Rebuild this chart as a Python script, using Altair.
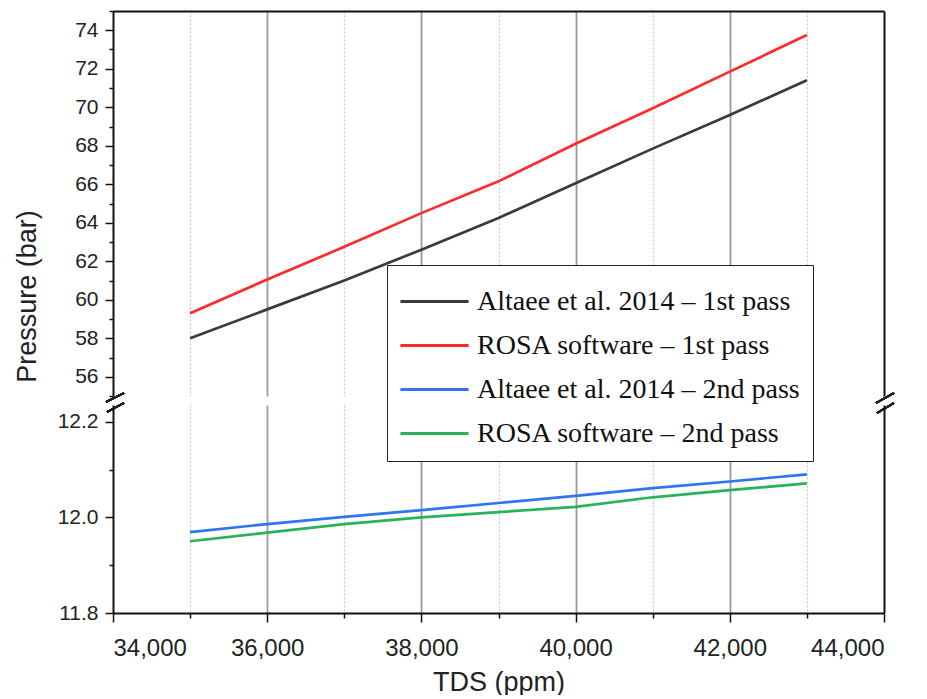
import altair as alt
import pandas as pd

# ---- data ----
tds = [35000, 36000, 37000, 38000, 39000, 40000, 41000, 42000, 43000]
altaee_1st = [58.0, 59.5, 61.0, 62.6, 64.25, 66.05, 67.85, 69.6, 71.4]
rosa_1st = [59.3, 61.05, 62.75, 64.5, 66.15, 68.1, 69.95, 71.85, 73.75]
altaee_2nd = [11.969, 11.986, 12.001, 12.015, 12.030, 12.045, 12.061, 12.075, 12.090]
rosa_2nd = [11.950, 11.968, 11.986, 12.000, 12.011, 12.022, 12.042, 12.057, 12.071]

series_names = [
    "Altaee et al. 2014 \u2013 1st pass",
    "ROSA software \u2013 1st pass",
    "Altaee et al. 2014 \u2013 2nd pass",
    "ROSA software \u2013 2nd pass",
]
series_colors = ["#3a3a3a", "#ff2a2a", "#2f74f2", "#28b35a"]

x_ticks = list(range(34000, 44001, 1000))
y_upper_ticks = list(range(55, 76))
y_lower_ticks = [11.8, 11.9, 12.0, 12.1, 12.2]

rows = []
for name, vals in zip(series_names, [altaee_1st, rosa_1st, altaee_2nd, rosa_2nd]):
    for t, v in zip(tds, vals):
        rows.append({"tds": t, "pressure": v, "series": name})
df = pd.DataFrame(rows)
df_upper = df[df["series"].isin(series_names[:2])]
df_lower = df[df["series"].isin(series_names[2:])]

W, H1, H2 = 771, 385, 208

xscale = alt.Scale(domain=[34000, 44000], nice=False, zero=False)
yscale_u = alt.Scale(domain=[55, 75], nice=False, zero=False)
yscale_l = alt.Scale(domain=[11.8, 12.235], nice=False, zero=False)
color_scale = alt.Scale(domain=series_names, range=series_colors)

MAJ_X = "datum.value % 2000 === 0"
grid_props = dict(
    grid=True,
    gridColor={"condition": {"test": MAJ_X, "value": "#9a9a9a"}, "value": "#c8c8c8"},
    gridDash={"condition": {"test": MAJ_X, "value": []}, "value": [2, 2]},
    gridWidth={"condition": {"test": MAJ_X, "value": 1.8}, "value": 1.2},
    gridOpacity={"condition": {"test": "datum.value === 34000 || datum.value === 44000", "value": 0}, "value": 1},
)

legend = alt.Legend(
    orient="none", legendX=274, legendY=254, title=None,
    symbolType="M-1.05,0H2.05", symbolSize=1936, symbolStrokeWidth=3,
    labelFont="Liberation Serif", labelFontSize=28, labelColor="#111",
    labelLimit=600, labelOffset=30, rowPadding=6,
    padding=13, strokeColor="#222", fillColor="white",
)

lines_u = alt.Chart(df_upper).mark_line(strokeWidth=2.7).encode(
    x=alt.X("tds:Q", scale=xscale,
            axis=alt.Axis(values=x_ticks, labels=False, ticks=False, domain=False, title=None, **grid_props)),
    y=alt.Y("pressure:Q", scale=yscale_u,
            axis=alt.Axis(values=y_upper_ticks, grid=False,
                          labelExpr="datum.value % 2 === 0 ? datum.label : ''",
                          tickSize={"condition": {"test": "datum.value % 2 === 0", "value": 8}, "value": 4},
                          labelFontSize=21, labelPadding=7,
                          title="Pressure (bar)", titleFontSize=27, titleAngle=270,
                          titleX=-78, titleY=285, titleBaseline="alphabetic", titleAlign="center")),
    color=alt.Color("series:N", scale=color_scale, legend=legend),
)
frame_u = alt.Chart(df_upper).mark_point(opacity=0).encode(
    x=alt.X("tds:Q", scale=xscale,
            axis=alt.Axis(orient="top", labels=False, ticks=False, grid=False, title=None)),
    y=alt.Y("pressure:Q", scale=yscale_u,
            axis=alt.Axis(orient="right", labels=False, ticks=False, grid=False, title=None)),
)
brk_left = [
    alt.Chart(df_upper).mark_rule(color="#222", strokeWidth=1.5).encode(
        x=alt.value(-7), x2=alt.value(11), y=alt.value(H1 + 6), y2=alt.value(H1 - 3)),
    alt.Chart(df_upper).mark_rule(color="#222", strokeWidth=1.5).encode(
        x=alt.value(-6), x2=alt.value(11), y=alt.value(H1 + 16), y2=alt.value(H1 + 7)),
]
brk_right = [
    alt.Chart(df_upper).mark_rule(color="#222", strokeWidth=1.5).encode(
        x=alt.value(W - 8), x2=alt.value(W + 10), y=alt.value(H1 + 7), y2=alt.value(H1 - 3)),
    alt.Chart(df_upper).mark_rule(color="#222", strokeWidth=1.5).encode(
        x=alt.value(W - 7), x2=alt.value(W + 10), y=alt.value(H1 + 17), y2=alt.value(H1 + 7)),
]
upper = alt.layer(lines_u, frame_u, *brk_left, *brk_right).resolve_axis(
    x="independent", y="independent").properties(width=W, height=H1)

lines_l = alt.Chart(df_lower).mark_line(strokeWidth=2.7).encode(
    x=alt.X("tds:Q", scale=xscale,
            axis=alt.Axis(values=x_ticks,
                          labelExpr="datum.value % 2000 === 0 ? format(datum.value, ',') : ''",
                          tickSize={"condition": {"test": MAJ_X, "value": 9}, "value": 5},
                          labelFontSize=24, labelPadding=14,
                          title="TDS (ppm)", titleFontSize=27, titlePadding=9, **grid_props)),
    y=alt.Y("pressure:Q", scale=yscale_l,
            axis=alt.Axis(values=y_lower_ticks, format=".1f", grid=False,
                          labelExpr="round(datum.value * 10) % 2 === 0 ? datum.label : ''",
                          tickSize={"condition": {"test": "round(datum.value * 10) % 2 === 0", "value": 8}, "value": 4},
                          labelFontSize=21, labelPadding=7, title=None)),
    color=alt.Color("series:N", scale=color_scale, legend=legend),
)
frame_l = alt.Chart(df_lower).mark_point(opacity=0).encode(
    x=alt.X("tds:Q", scale=xscale, axis=None),
    y=alt.Y("pressure:Q", scale=yscale_l,
            axis=alt.Axis(orient="right", labels=False, ticks=False, grid=False, title=None)),
)
lower = alt.layer(lines_l, frame_l).resolve_axis(
    x="independent", y="independent").properties(width=W, height=H2)

chart = alt.vconcat(upper, lower, spacing=9, bounds="flush").properties(
    padding={"left": 5, "top": 2, "right": 2, "bottom": 0}
).configure_view(stroke=None).configure_axis(
    domainColor="#111", domainWidth=2, tickColor="#111", tickWidth=1.5,
    labelColor="#222", labelFont="Liberation Sans", titleFont="Liberation Sans",
    titleFontWeight="normal", titleColor="#222",
)

chart.save("out.html", embed_options={"renderer": "svg", "actions": False})
